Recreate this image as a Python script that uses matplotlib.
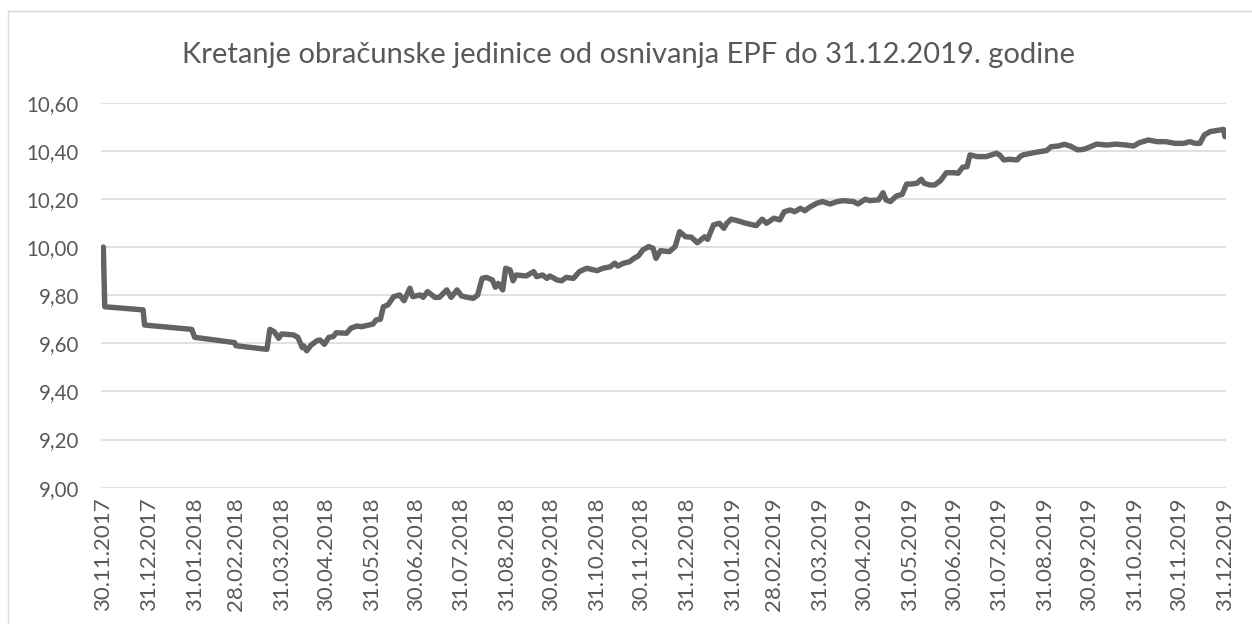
import matplotlib
matplotlib.use("Agg")
import matplotlib.pyplot as plt
import matplotlib.dates as mdates
from matplotlib.ticker import FuncFormatter
from matplotlib.lines import Line2D
import pandas as pd

plt.rcParams['font.family'] = ['Lato', 'DejaVu Sans']

title = "Kretanje obračunske jedinice od osnivanja EPF do 31.12.2019. godine"
start_date = "2017-11-30"

# days since 30.11.2017
day_offsets = [
    0, 1, 27, 28, 60, 62, 89, 90, 111, 113, 116, 119, 121, 129, 132, 135, 136, 138,
    141, 145, 147, 150, 153, 156, 158, 165, 168, 172, 175, 183, 185, 188, 190, 193,
    197, 201, 204, 208, 210, 215, 217, 220, 225, 228, 233, 236, 240, 243, 247, 251,
    254, 257, 260, 264, 266, 268, 271, 273, 276, 278, 280, 287, 292, 294, 298, 301,
    303, 308, 311, 314, 319, 323, 328, 335, 339, 344, 347, 349, 353, 357, 360, 363,
    366, 370, 373, 375, 378, 384, 388, 391, 395, 399, 403, 408, 410, 414, 418, 421,
    423, 426, 430, 436, 443, 447, 450, 455, 459, 462, 466, 469, 473, 476, 479, 484,
    488, 493, 498, 502, 509, 512, 517, 520, 526, 529, 531, 534, 538, 542, 545, 548,
    552, 555, 557, 561, 564, 568, 572, 577, 580, 583, 586, 588, 593, 599, 606, 608,
    611, 615, 620, 622, 624, 631, 640, 643, 648, 652, 656, 661, 665, 669, 674, 681,
    687, 694, 699, 703, 709, 715, 721, 727, 733, 737, 741, 744, 747, 751, 755, 760,
    761,
]

unit_values = [
    10.000, 9.752, 9.739, 9.676, 9.658, 9.625, 9.603, 9.590, 9.575, 9.658, 9.648, 9.621,
    9.639, 9.635, 9.625, 9.582, 9.589, 9.569, 9.593, 9.611, 9.614, 9.596, 9.625, 9.628,
    9.644, 9.642, 9.663, 9.672, 9.669, 9.680, 9.697, 9.700, 9.752, 9.759, 9.794, 9.801,
    9.777, 9.829, 9.794, 9.801, 9.791, 9.815, 9.791, 9.791, 9.822, 9.791, 9.822, 9.797,
    9.791, 9.787, 9.801, 9.870, 9.874, 9.863, 9.833, 9.849, 9.822, 9.912, 9.905, 9.860,
    9.884, 9.880, 9.898, 9.877, 9.884, 9.870, 9.880, 9.863, 9.860, 9.874, 9.870, 9.898,
    9.912, 9.902, 9.912, 9.918, 9.933, 9.921, 9.933, 9.939, 9.953, 9.963, 9.988, 10.002,
    9.995, 9.953, 9.985, 9.981, 10.002, 10.064, 10.043, 10.041, 10.018, 10.043, 10.032,
    10.092, 10.099, 10.078, 10.099, 10.116, 10.110, 10.099, 10.089, 10.116, 10.099,
    10.120, 10.113, 10.147, 10.154, 10.147, 10.161, 10.151, 10.165, 10.182, 10.189,
    10.179, 10.189, 10.193, 10.189, 10.179, 10.199, 10.193, 10.196, 10.226, 10.196,
    10.189, 10.212, 10.219, 10.262, 10.262, 10.265, 10.282, 10.265, 10.258, 10.258,
    10.276, 10.309, 10.309, 10.307, 10.332, 10.334, 10.383, 10.376, 10.376, 10.390,
    10.383, 10.362, 10.365, 10.362, 10.376, 10.383, 10.392, 10.401, 10.417, 10.420,
    10.427, 10.420, 10.404, 10.406, 10.415, 10.428, 10.424, 10.428, 10.424, 10.420,
    10.434, 10.445, 10.438, 10.438, 10.431, 10.431, 10.438, 10.431, 10.431, 10.466,
    10.480, 10.484, 10.489, 10.459,
]

tick_labels_dates = [
    "30.11.2017", "31.12.2017", "31.01.2018", "28.02.2018", "31.03.2018", "30.04.2018",
    "31.05.2018", "30.06.2018", "31.07.2018", "31.08.2018", "30.09.2018", "31.10.2018",
    "30.11.2018", "31.12.2018", "31.01.2019", "28.02.2019", "31.03.2019", "30.04.2019",
    "31.05.2019", "30.06.2019", "31.07.2019", "31.08.2019", "30.09.2019", "31.10.2019",
    "30.11.2019", "31.12.2019",
]
y_ticks = [9.0, 9.2, 9.4, 9.6, 9.8, 10.0, 10.2, 10.4, 10.6]

t0 = pd.Timestamp(start_date)
dates = [t0 + pd.Timedelta(days=d) for d in day_offsets]
tick_dates = [pd.to_datetime(s, format="%d.%m.%Y") for s in tick_labels_dates]

W, H = 1252, 624
fig = plt.figure(figsize=(W / 100, H / 100), dpi=100)
fig.patch.set_facecolor("white")

ax = fig.add_axes([101 / W, 1 - 487.7 / H, (1225.7 - 101) / W, (487.7 - 102.7) / H])

text_color = "#595959"
ax.plot(dates, unit_values, color="#636363", lw=3.9, solid_joinstyle="round",
        solid_capstyle="round", zorder=3)

ax.set_ylim(9.0, 10.6)
ax.set_xlim(t0 - pd.Timedelta(days=1.56), t0 + pd.Timedelta(days=761.5))
ax.set_yticks(y_ticks)
ax.yaxis.set_major_formatter(FuncFormatter(lambda v, p: f"{v:.2f}".replace(".", ",")))
ax.set_xticks(tick_dates)
ax.set_xticklabels(tick_labels_dates, rotation=90)

ax.grid(axis="y", color="#d9d9d9", lw=1.1)
ax.set_axisbelow(True)
for s in ax.spines.values():
    s.set_visible(False)
ax.tick_params(axis="both", length=0, colors=text_color)
ax.tick_params(axis="y", pad=16, labelsize=14.8)
ax.tick_params(axis="x", pad=7, labelsize=16)
for lab in ax.get_xticklabels():
    lab.set_va("top")

fig.text(629 / W, 1 - 55 / H, title, ha="center", va="center", fontsize=21,
         color=text_color)

# chart area border (cropped at right and bottom)
fig.add_artist(Line2D([7.5 / W, 7.5 / W], [0, 1 - 10.5 / H], transform=fig.transFigure,
                      color="#d9d9d9", lw=1.0))
fig.add_artist(Line2D([7.5 / W, 1], [1 - 10.5 / H, 1 - 10.5 / H], transform=fig.transFigure,
                      color="#d9d9d9", lw=1.0))

fig.savefig("out.png", dpi=100, facecolor="white")
